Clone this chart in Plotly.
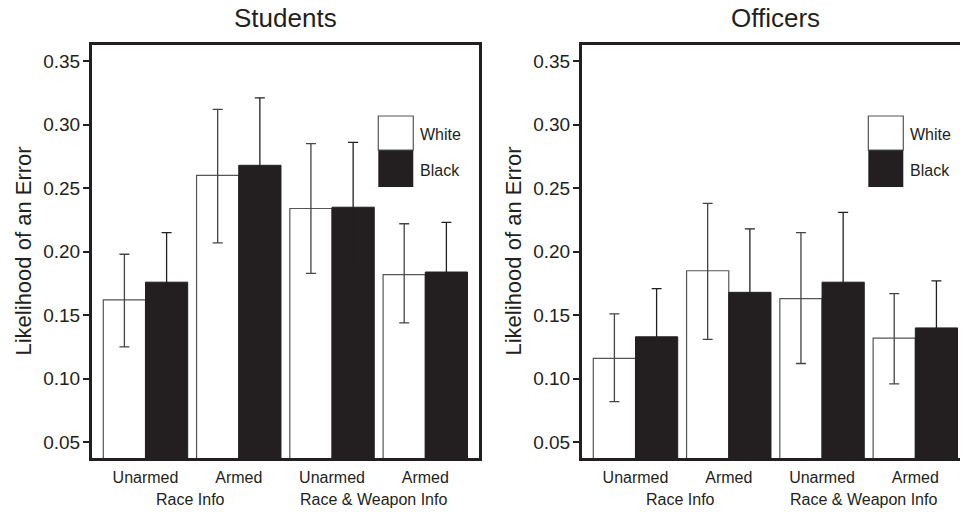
import plotly.graph_objects as go

# ---- data ----
conditions = ["Unarmed", "Armed", "Unarmed", "Armed"]
info_groups = ["Race Info", "Race & Weapon Info"]
races = ["White", "Black"]

students_white = [0.162, 0.260, 0.234, 0.182]
students_white_hi = [0.198, 0.312, 0.285, 0.222]
students_white_lo = [0.125, 0.207, 0.183, 0.144]
students_black = [0.176, 0.268, 0.235, 0.184]
students_black_hi = [0.215, 0.321, 0.286, 0.223]

officers_white = [0.116, 0.185, 0.163, 0.132]
officers_white_hi = [0.151, 0.238, 0.215, 0.167]
officers_white_lo = [0.082, 0.131, 0.112, 0.096]
officers_black = [0.133, 0.168, 0.176, 0.140]
officers_black_hi = [0.171, 0.218, 0.231, 0.177]

y_ticks = [0.05, 0.10, 0.15, 0.20, 0.25, 0.30, 0.35]
panel_titles = ["Students", "Officers"]
y_title = "Likelihood of an Error"

# ---- styling ----
INK = "#231f20"
FONT = "Arial, Liberation Sans, Helvetica, sans-serif"
xpos = list(range(len(conditions)))

fig = go.Figure()

def add_panel(white, white_hi, white_lo, black, black_hi, xa, ya):
    fig.add_trace(go.Bar(
        x=xpos, y=white, name=races[0], xaxis=xa, yaxis=ya,
        marker=dict(color="white", line=dict(color="#555555", width=1.2)),
        error_y=dict(type="data", symmetric=False,
                     array=[h - v for h, v in zip(white_hi, white)],
                     arrayminus=[v - l for v, l in zip(white, white_lo)],
                     color="#444444", thickness=1.3, width=5),
        showlegend=False))
    fig.add_trace(go.Bar(
        x=xpos, y=black, name=races[1], xaxis=xa, yaxis=ya,
        marker=dict(color=INK, line=dict(color=INK, width=1)),
        error_y=dict(type="data", symmetric=True,
                     array=[h - v for h, v in zip(black_hi, black)],
                     color=INK, thickness=1.3, width=5),
        showlegend=False))

add_panel(students_white, students_white_hi, students_white_lo,
          students_black, students_black_hi, "x", "y")
add_panel(officers_white, officers_white_hi, officers_white_lo,
          officers_black, officers_black_hi, "x2", "y2")

W, H = 962, 512
mt, mb = 44.5, 53.5
xr_left = [-0.5736, 3.5736]
xr_right = [-0.5736, 3.479]
yr = [0.0376, 0.3627]

axis_common = dict(showline=True, linewidth=3, linecolor=INK, showgrid=False,
                   zeroline=False)
xcommon = dict(axis_common, tickvals=xpos, ticktext=conditions, ticks="",
               ticklabelstandoff=3,
               tickfont=dict(family=FONT, size=16, color=INK))
ycommon = dict(axis_common, tickvals=y_ticks,
               ticktext=[f"{t:.2f}" for t in y_ticks],
               ticks="outside", ticklen=6, tickwidth=1.5, tickcolor=INK,
               ticklabelstandoff=-1,
               tickfont=dict(family=FONT, size=19, color=INK), range=yr)

fig.update_layout(
    width=W, height=H,
    margin=dict(l=0, r=0, t=mt, b=mb, pad=0),
    paper_bgcolor="white", plot_bgcolor="white",
    barmode="group", bargap=0.095, bargroupgap=0,
    showlegend=False,
    font=dict(family=FONT, color=INK),
    xaxis=dict(xcommon, domain=[92 / W, 478.8 / W], range=xr_left,
               anchor="y", mirror=True),
    yaxis=dict(ycommon, domain=[0, 1], anchor="x", mirror=True),
    xaxis2=dict(xcommon, domain=[582 / W, 960 / W], range=xr_right,
                anchor="y2", mirror=True),
    yaxis2=dict(ycommon, domain=[0, 1], anchor="x2", mirror=False),
)

annotations = []
shapes = []
for i, (xa, ya) in enumerate([("x", "y"), ("x2", "y2")]):
    annotations.append(dict(text=panel_titles[i], x=1.5, xref=xa, y=1.0664,
                            yref="paper", showarrow=False, xanchor="center",
                            yanchor="middle",
                            font=dict(family=FONT, size=26, color=INK)))
    annotations.append(dict(text=y_title, x=(23 if i == 0 else 513) / W,
                            xref="paper", y=0.5, yref="paper",
                            textangle=-90, showarrow=False, xanchor="center",
                            yanchor="middle",
                            font=dict(family=FONT, size=22, color=INK)))
    for gx, g in zip([0.48, 2.44], info_groups):
        annotations.append(dict(text=g, x=gx, xref=xa, y=-0.1002,
                                yref="paper", showarrow=False,
                                xanchor="center", yanchor="middle",
                                font=dict(family=FONT, size=16, color=INK)))
    shapes.append(dict(type="rect", xref=xa, yref=ya,
                       x0=2.496, x1=2.871, y0=0.2799, y1=0.3068,
                       fillcolor="white", line=dict(color="#555555", width=1.2)))
    shapes.append(dict(type="rect", xref=xa, yref=ya,
                       x0=2.496, x1=2.871, y0=0.2510, y1=0.2799,
                       fillcolor=INK, line=dict(color=INK, width=0)))
    for race, yy in zip(races, [0.2924, 0.2641]):
        annotations.append(dict(text=race, x=2.922, xref=xa, y=yy,
                                yref=ya, showarrow=False,
                                xanchor="left", yanchor="middle",
                                font=dict(family=FONT, size=16, color=INK)))

# the Officers panel is cut at the image edge: keep its right side open
shapes.append(dict(type="rect", xref="paper", yref="paper",
                   x0=958.5 / W, x1=1.0, y0=0.002, y1=0.998,
                   fillcolor="white", line=dict(width=0), layer="above"))

fig.update_layout(annotations=annotations, shapes=shapes)
fig.write_html("out.html")
